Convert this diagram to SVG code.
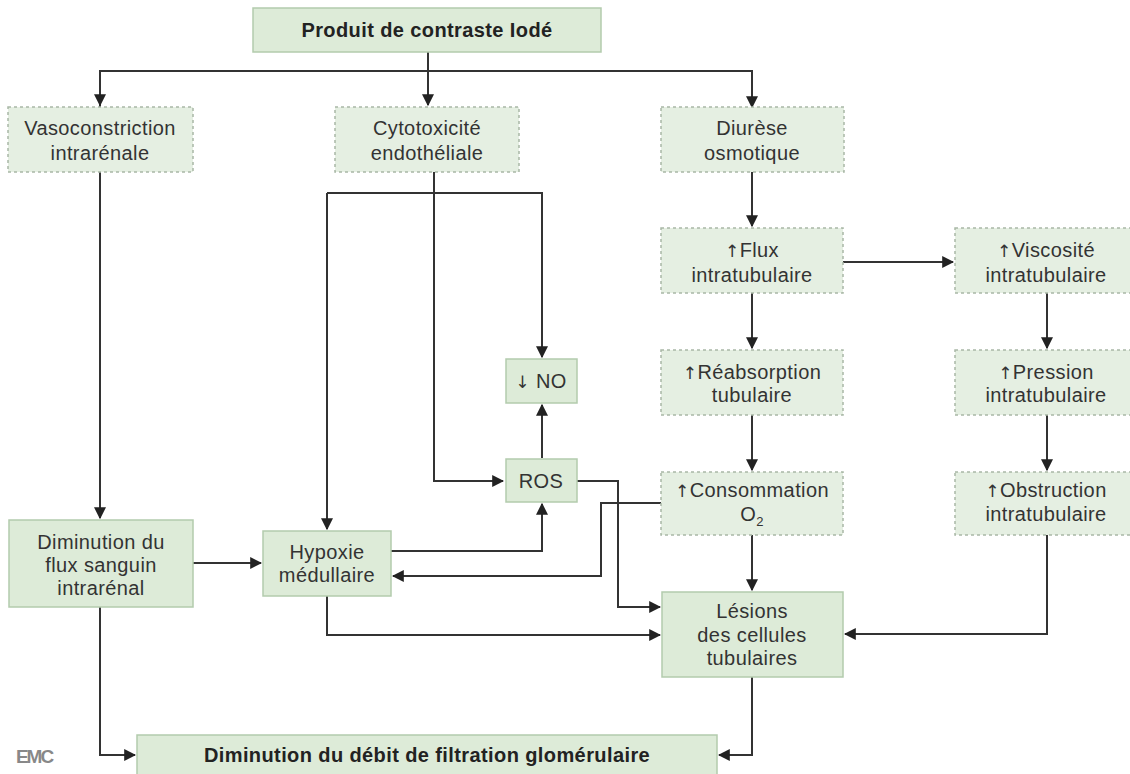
<svg xmlns="http://www.w3.org/2000/svg" width="1130" height="774" viewBox="0 0 1130 774">
<defs>
<style>
.s{fill:#ddebd8;stroke:#b3cbad;stroke-width:1.5}
.d{fill:#e5efe2;stroke:#a9b8a6;stroke-width:1.5;stroke-dasharray:3 3}
.t{font-family:"Liberation Sans",Arial,sans-serif;font-size:20px;fill:#333;text-anchor:middle;letter-spacing:0.4px}
.b{font-weight:bold;fill:#222}
.u{font-family:"DejaVu Sans",sans-serif;font-size:17px;fill:#333}
.c{fill:none;stroke:#333;stroke-width:2}
</style>
<marker id="a" viewBox="0 0 10 10" refX="9" refY="5" markerWidth="12" markerHeight="12" markerUnits="userSpaceOnUse" orient="auto">
<path d="M0,0 L10,5 L0,10 Z" fill="#222"/>
</marker>
</defs>
<rect width="1130" height="774" fill="#fff"/>

<g id="connectors" class="c">
<path d="M428,52 V105" marker-end="url(#a)"/>
<path d="M100,107 V71 H752 V107" marker-end="url(#a)"/>
<path d="M100,71 V105" marker-end="url(#a)"/>
<path d="M100,172 V518" marker-end="url(#a)"/>
<path d="M434,172 V481 H503" marker-end="url(#a)"/>
<path d="M327,193 H542 V357" marker-end="url(#a)"/>
<path d="M327,193 V529" marker-end="url(#a)"/>
<path d="M542,458 V405" marker-end="url(#a)"/>
<path d="M752,172 V226" marker-end="url(#a)"/>
<path d="M843,262 H953" marker-end="url(#a)"/>
<path d="M752,293 V348" marker-end="url(#a)"/>
<path d="M1047,293 V348" marker-end="url(#a)"/>
<path d="M752,415 V470" marker-end="url(#a)"/>
<path d="M1047,415 V470" marker-end="url(#a)"/>
<path d="M752,535 V590" marker-end="url(#a)"/>
<path d="M1047,535 V634 H845" marker-end="url(#a)"/>
<path d="M193,563 H261" marker-end="url(#a)"/>
<path d="M391,551 H542 V504" marker-end="url(#a)"/>
<path d="M661,503 H601 V576 H393" marker-end="url(#a)"/>
<path d="M577,481 H618 V607 H660" marker-end="url(#a)"/>
<path d="M327,596 V635 H660" marker-end="url(#a)"/>
<path d="M752,677 V755 H719" marker-end="url(#a)"/>
<path d="M100,607 V755 H135" marker-end="url(#a)"/>
</g>

<g id="n-produit">
<rect class="s" x="253" y="8" width="348" height="44"/>
<text class="t b" x="427" y="37">Produit de contraste Iodé</text>
</g>
<g id="n-vaso">
<rect class="d" x="8" y="107" width="185" height="65"/>
<text class="t" x="100" y="135">Vasoconstriction</text>
<text class="t" x="100" y="160">intrarénale</text>
</g>
<g id="n-cyto">
<rect class="d" x="335" y="107" width="184" height="65"/>
<text class="t" x="427" y="135">Cytotoxicité</text>
<text class="t" x="427" y="160">endothéliale</text>
</g>
<g id="n-diurese">
<rect class="d" x="661" y="107" width="183" height="65"/>
<text class="t" x="752" y="135">Diurèse</text>
<text class="t" x="752" y="160">osmotique</text>
</g>
<g id="n-flux">
<rect class="d" x="661" y="228" width="182" height="65"/>
<text class="t" x="752" y="257"><tspan class="u">↑</tspan>Flux</text>
<text class="t" x="752" y="282">intratubulaire</text>
</g>
<g id="n-viscosite">
<rect class="d" x="955" y="228" width="182" height="65"/>
<text class="t" x="1046" y="257"><tspan class="u">↑</tspan>Viscosité</text>
<text class="t" x="1046" y="282">intratubulaire</text>
</g>
<g id="n-reabs">
<rect class="d" x="661" y="350" width="182" height="65"/>
<text class="t" x="752" y="379"><tspan class="u">↑</tspan>Réabsorption</text>
<text class="t" x="752" y="402">tubulaire</text>
</g>
<g id="n-pression">
<rect class="d" x="955" y="350" width="182" height="65"/>
<text class="t" x="1046" y="379"><tspan class="u">↑</tspan>Pression</text>
<text class="t" x="1046" y="402">intratubulaire</text>
</g>
<g id="n-conso">
<rect class="d" x="661" y="472" width="182" height="63"/>
<text class="t" x="752" y="497"><tspan class="u">↑</tspan>Consommation</text>
<text class="t" x="752" y="521">O<tspan font-size="13" dy="5">2</tspan></text>
</g>
<g id="n-obstruction">
<rect class="d" x="955" y="472" width="182" height="63"/>
<text class="t" x="1046" y="497"><tspan class="u">↑</tspan>Obstruction</text>
<text class="t" x="1046" y="521">intratubulaire</text>
</g>
<g id="n-no">
<rect class="s" x="506" y="359" width="71" height="44"/>
<text class="t" x="541" y="388"><tspan class="u">↓</tspan> NO</text>
</g>
<g id="n-ros">
<rect class="s" x="506" y="459" width="71" height="43"/>
<text class="t" x="541" y="488">ROS</text>
</g>
<g id="n-dimflux">
<rect class="s" x="9" y="520" width="184" height="87"/>
<text class="t" x="101" y="549">Diminution du</text>
<text class="t" x="101" y="572">flux sanguin</text>
<text class="t" x="101" y="595">intrarénal</text>
</g>
<g id="n-hypoxie">
<rect class="s" x="263" y="531" width="128" height="65"/>
<text class="t" x="327" y="559">Hypoxie</text>
<text class="t" x="327" y="582">médullaire</text>
</g>
<g id="n-lesions">
<rect class="s" x="662" y="592" width="181" height="85"/>
<text class="t" x="752" y="618">Lésions</text>
<text class="t" x="752" y="642">des cellules</text>
<text class="t" x="752" y="665">tubulaires</text>
</g>
<g id="n-dfg">
<rect class="s" x="137" y="735" width="580" height="45"/>
<text class="t b" x="427" y="762">Diminution du débit de filtration glomérulaire</text>
</g>
<g id="logo">
<text x="34" y="763" font-family="'Liberation Sans Narrow','Liberation Sans',sans-serif" font-size="19" font-weight="bold" fill="#888" text-anchor="middle" letter-spacing="-2">EMC</text>
</g>
</svg>
